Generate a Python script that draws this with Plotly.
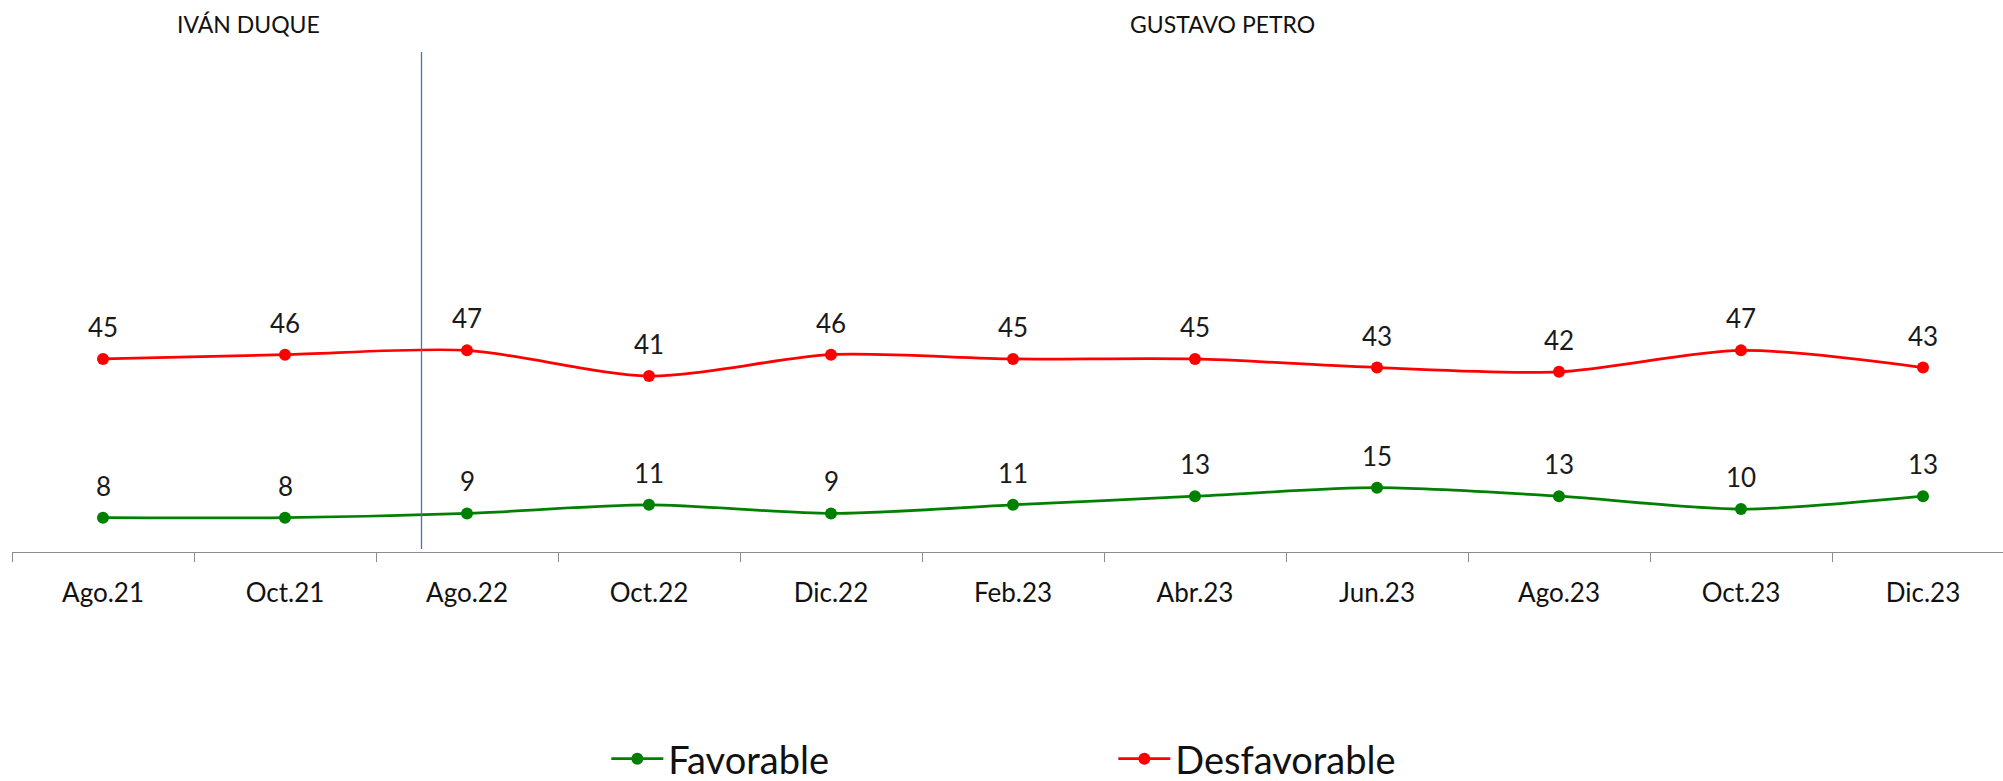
import plotly.graph_objects as go

# Survey periods and image ratings (%)
periods = ["Ago.21", "Oct.21", "Ago.22", "Oct.22", "Dic.22", "Feb.23",
           "Abr.23", "Jun.23", "Ago.23", "Oct.23", "Dic.23"]
favorable = [8, 8, 9, 11, 9, 11, 13, 15, 13, 10, 13]
desfavorable = [45, 46, 47, 41, 46, 45, 45, 43, 42, 47, 43]

# Government periods shown along the top
gov_labels = ["IVÁN DUQUE", "GUSTAVO PETRO"]
gov_label_x = [0.8, 6.15]
transition_x = 1.75  # change of government between Oct.21 and Ago.22

FONT = "Lato"
W, H = 2003, 781
LEFT, TOP, BOTTOM = 12, 52, 229
STEP = 182  # px per category
PLOT_H = H - TOP - BOTTOM

fig = go.Figure()

series = [("Favorable", favorable, "#008000"),
          ("Desfavorable", desfavorable, "#FF0000")]
for name, vals, color in series:
    fig.add_trace(go.Scatter(
        x=periods, y=vals, name=name, mode="lines+markers",
        line=dict(color=color, width=2.75, shape="spline", smoothing=0.8),
        marker=dict(color=color, size=12),
        hoverinfo="x+y+name",
    ))
    for p, v in zip(periods, vals):
        fig.add_annotation(x=p, y=v, text=str(v), showarrow=False,
                           yshift=32, yanchor="middle", xanchor="center",
                           font=dict(family=FONT, size=26, color="#1a1a1a"))

# header labels sit 23.5 px below the top edge
header_y = (H - BOTTOM - 23.5) / PLOT_H
for txt, gx in zip(gov_labels, gov_label_x):
    fig.add_annotation(x=gx, xref="x", y=header_y, yref="paper",
                       text=txt, showarrow=False, xanchor="center",
                       yanchor="middle",
                       font=dict(family=FONT, size=23, color="#111111"))

fig.add_shape(type="line", xref="x", yref="paper",
              x0=transition_x, x1=transition_x, y0=0.006, y1=1,
              line=dict(color="#4472C4", width=1.3))

x_max = -0.5 + (W - LEFT) / STEP
y_top = PLOT_H / 4.29

fig.update_layout(
    width=W, height=H,
    margin=dict(l=LEFT, r=0, t=TOP, b=BOTTOM, pad=0),
    plot_bgcolor="white", paper_bgcolor="white",
    font=dict(family=FONT, color="#1a1a1a"),
    showlegend=True,
    legend=dict(orientation="h", x=0.2985, xanchor="left",
                y=1 - 759 / H, yref="container", yanchor="middle",
                font=dict(family=FONT, size=38, color="#111111"),
                itemwidth=52, entrywidth=440, entrywidthmode="pixels",
                bgcolor="rgba(0,0,0,0)"),
    xaxis=dict(type="category", range=[-0.5, x_max],
               showline=True, linecolor="#8C8C8C", linewidth=1.3,
               ticks="outside", tickson="boundaries", ticklen=9,
               tickcolor="#8C8C8C", tickwidth=1.3,
               ticklabelstandoff=18,
               tickfont=dict(family=FONT, size=26, color="#111111"),
               showgrid=False, zeroline=False, fixedrange=True),
    yaxis=dict(range=[0, y_top], visible=False, showgrid=False,
               zeroline=False, fixedrange=True),
)

fig.write_html("out.html")
